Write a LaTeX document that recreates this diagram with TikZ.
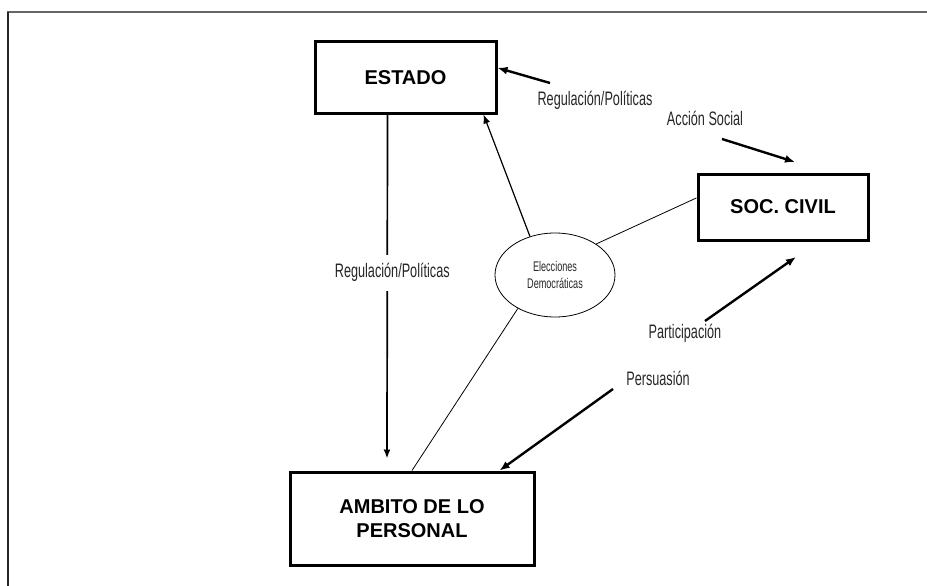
\documentclass[tikz,border=0pt]{standalone}
\usepackage{fontspec}
\setmainfont{Liberation Sans}
\newfontfamily\condfont[FakeStretch=0.65]{Liberation Sans}
\usetikzlibrary{shapes.geometric,arrows.meta}

\begin{document}
\begin{tikzpicture}[x=1pt,y=-1pt]
        \tikzstyle{every node}+=[inner sep=0pt]
        \tikzstyle{caja}=[draw, line width=3pt, align=center, font=\fontsize{20}{24}\selectfont\bfseries]
        \tikzstyle{etiq}=[text=black!85, font=\condfont\fontsize{19.5}{22}\selectfont]
        \tikzstyle{flecha}=[line width=2.4pt, -{Latex[length=10pt,width=8pt]}]
        \useasboundingbox (0,0) rectangle (927,586);
        % marco
        \draw [black!60, line width=2pt] (7,12) -- (927,12);
        \draw [black!85, line width=1.5pt] (8,12) -- (8,586);
        % cajas
        \node [caja, minimum width=181, minimum height=71] (estado) at (405.5,77.5) {ESTADO};
        \node [caja, minimum width=170, minimum height=66] (soc) at (783,207) {SOC. CIVIL};
        \node [caja, minimum width=244, minimum height=93] (amb) at (412,518.5) {AMBITO DE LO\\PERSONAL};
        \node [ellipse, draw, line width=0.8pt, minimum width=120, minimum height=84, align=center, text=black!85, font=\condfont\fontsize{14}{17}\selectfont] (elec) at (555,275) {Elecciones\\Democráticas};
        % lineas
        \draw [line width=1.7pt, -{Latex[length=9pt,width=7pt]}] ([xshift=-18pt]estado.south) -- node [etiq, fill=white, inner ysep=9pt, inner xsep=2pt, pos=0.46, xshift=5pt] (lreg2) {Regulación/Políticas} ([xshift=-25pt,yshift=12pt]amb.north);
        \draw [line width=1.2pt, -{Latex[length=9pt,width=7pt]}] (elec.123) -- ([xshift=-14pt]estado.south east);
        \draw [line width=0.8pt] (elec.37) -- (soc.174);
        \draw [line width=0.8pt] (elec.222) -- (amb.north);
        % flechas
        \coordinate (c1) at (550,83);
        \draw [flecha] (c1) -- (estado.6);
        \node [etiq] (lreg1) at (595,100) {Regulación/Políticas};
        \coordinate (c2) at (722,139);
        \coordinate (c3) at (795,162);
        \draw [flecha] (c2) -- (c3);
        \node [etiq] (lacc) at (705,118) {Acción Social};
        \coordinate (c4) at (705,321);
        \coordinate (c5) at (796,257);
        \draw [flecha] (c4) -- (c5);
        \node [etiq] (lpart) at (685,333) {Participación};
        \coordinate (c6) at (613,389);
        \draw [flecha] (c6) -- ([xshift=-36pt]amb.north east);
        \node [etiq] (lpers) at (658,378) {Persuasión};
\end{tikzpicture}
\end{document}
